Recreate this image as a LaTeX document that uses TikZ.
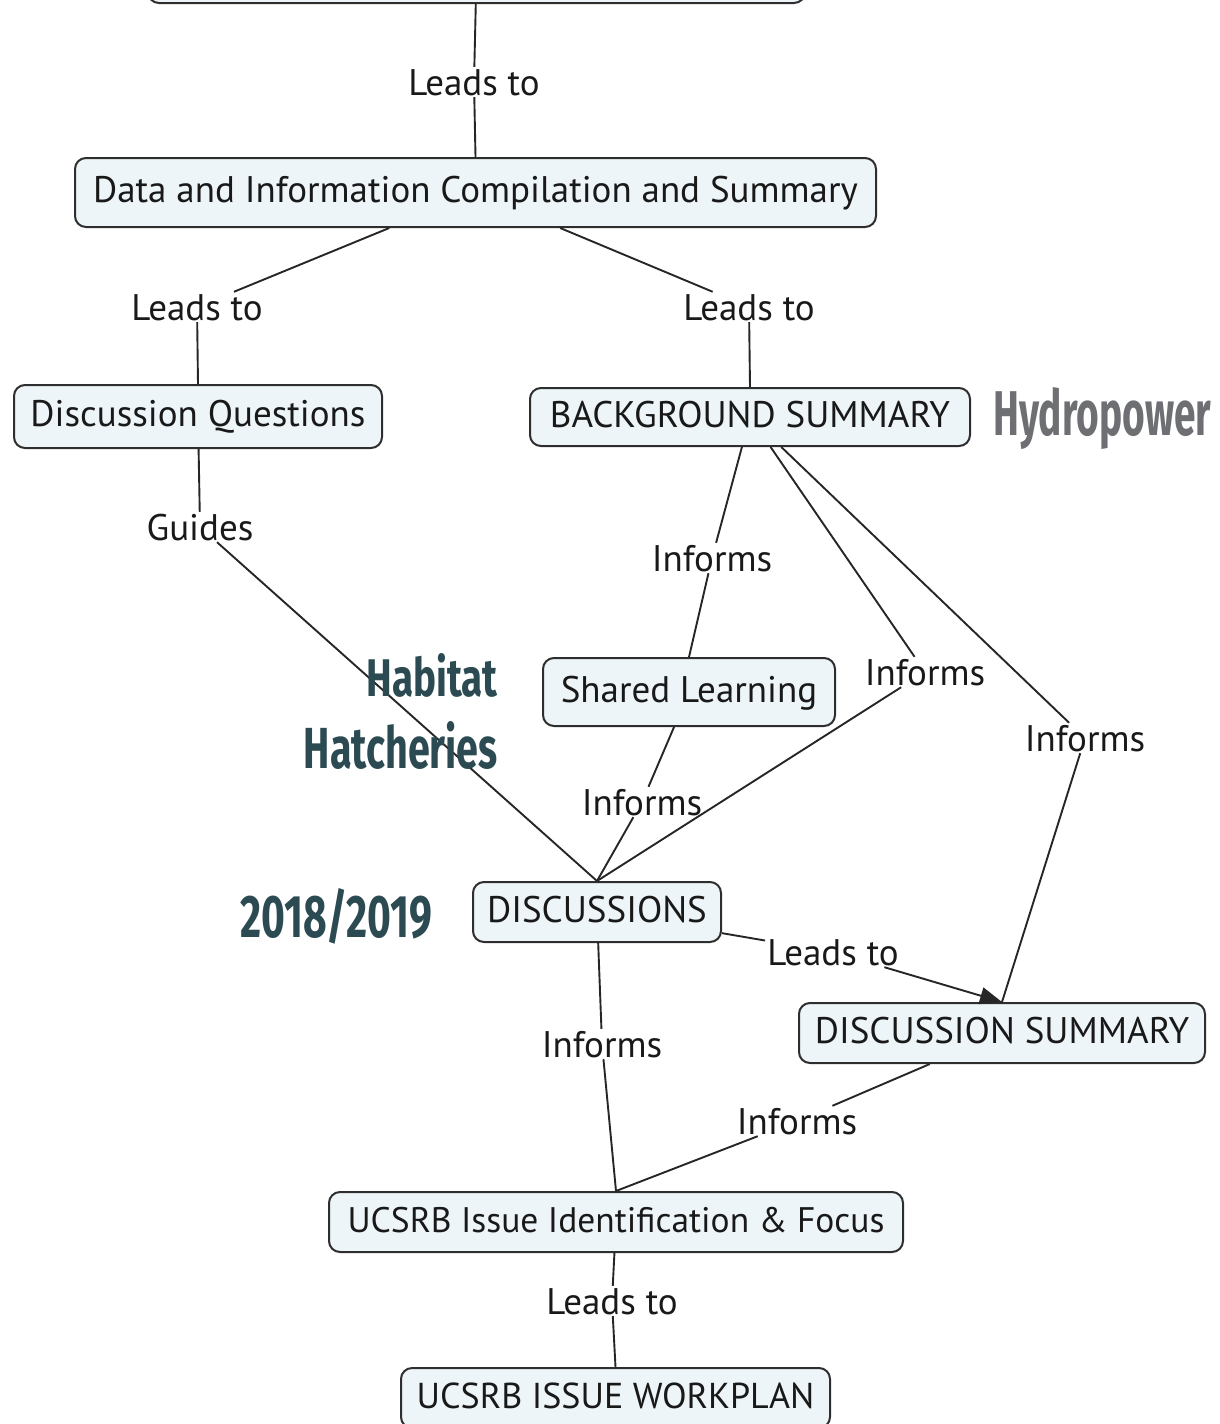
\documentclass[tikz,border=0pt]{standalone}
\usepackage{fontspec}
\usepackage{graphicx}
\setmainfont{PT Sans}
\newfontfamily\condfont{Fira Sans}
\usetikzlibrary{arrows.meta}
\definecolor{boxfill}{HTML}{EEF5F8}
\definecolor{boxline}{HTML}{2E2E2E}
\definecolor{darkteal}{HTML}{2B4A52}
\definecolor{hgray}{HTML}{6E6F72}
\begin{document}
\begin{tikzpicture}[x=1pt,y=-1pt,
  box/.style={draw=boxline, fill=boxfill, rounded corners=11pt, line width=2pt,
    font=\fontsize{37}{40}\selectfont, text=black!90, inner sep=0pt,
    text height=26pt, text depth=6pt},
  lab/.style={font=\fontsize{37}{40}\selectfont, text=black!90, inner sep=2pt,
    text height=26pt, text depth=0pt},
  con/.style={line width=1.9pt, draw=black!85},
  cond/.style={font=\condfont\bfseries, inner sep=0pt}]
\useasboundingbox (0,0) rectangle (1220,1424);
\clip (0,0) rectangle (1220,1424);

% boxes
\node[box, minimum width=657, minimum height=60] (b1) at (476.5,-27) {};
\node[box, minimum width=801, minimum height=69] (b2) at (475.5,192.5) {Data and Information Compilation and Summary};
\node[box, minimum width=368, minimum height=63] (b3) at (198,416.5) {Discussion Questions};
\node[box, minimum width=440, minimum height=58] (b4) at (750,417) {BACKGROUND SUMMARY};
\node[box, minimum width=292, minimum height=68] (b5) at (689,692) {Shared Learning};
\node[box, minimum width=248, minimum height=60] (b6) at (597,912) {DISCUSSIONS};
\node[box, minimum width=406, minimum height=60] (b7) at (1002,1033) {DISCUSSION SUMMARY};
\node[box, minimum width=574, minimum height=60, font=\fontsize{35.5}{40}\selectfont] (b8) at (616,1222) {UCSRB Issue Identification \& Focus};
\node[box, minimum width=429, minimum height=60, font=\fontsize{36}{40}\selectfont] (b9) at (615.5,1398) {UCSRB ISSUE WORKPLAN};

% link labels
\node[lab] (l1) at (474,82) {Leads to};
\node[lab] (l2) at (197,307) {Leads to};
\node[lab] (l3) at (749,307) {Leads to};
\node[lab] (l4) at (200,527) {Guides};
\node[lab] (l5) at (712,558) {Informs};
\node[lab] (l6) at (925,672) {Informs};
\node[lab] (l7) at (1085,738) {Informs};
\node[lab] (l8) at (642,802) {Informs};
\node[lab] (l9) at (833,952) {Leads to};
\node[lab] (l10) at (602,1044) {Informs};
\node[lab] (l11) at (797,1121) {Informs};
\node[lab] (l12) at (612,1301) {Leads to};

% connectors
\draw[con] (b1) -- (l1);  \draw[con] (l1) -- (b2.north);
\draw[con] (b2) -- (l2);  \draw[con] (l2) -- (b3.north);
\draw[con] (b2) -- (l3);  \draw[con] (l3) -- (b4.north);
\draw[con] (b3) -- (l4);  \draw[con] (l4) -- (b6.north);
\draw[con] (b4) -- (l5);  \draw[con] (l5) -- (b5.north);
\draw[con] (b4) -- (l6);  \draw[con] (l6) -- (b6.north);
\draw[con] (b4) -- (l7);  \draw[con] (l7) -- (b7.north);
\draw[con] (b5) -- (l8);  \draw[con] (l8) -- (b6.north);
\draw[con] (b6) -- (l9);  \draw[con, -{Triangle[length=22pt,width=17pt]}] (l9) -- (b7.north);
\draw[con] (b6) -- (l10); \draw[con] (l10) -- (b8.north);
\draw[con] (b7) -- (l11); \draw[con] (l11) -- (b8.north);
\draw[con] (b8) -- (l12); \draw[con] (l12) -- (b9.north);

% overlay titles
\node[cond, text=hgray, anchor=base west] (hydro) at (993,435) {\resizebox{218pt}{48pt}{Hydropower}};
\node[cond, text=darkteal, anchor=base east] (habitat) at (498,696) {\resizebox{131pt}{43pt}{Habitat}};
\node[cond, text=darkteal, anchor=base east] (hatch) at (498,768) {\resizebox{194pt}{47pt}{Hatcheries}};
\node[cond, text=darkteal, anchor=base west] (years) at (240,937) {\resizebox{192pt}{49pt}{2018/2019}};
\end{tikzpicture}
\end{document}
